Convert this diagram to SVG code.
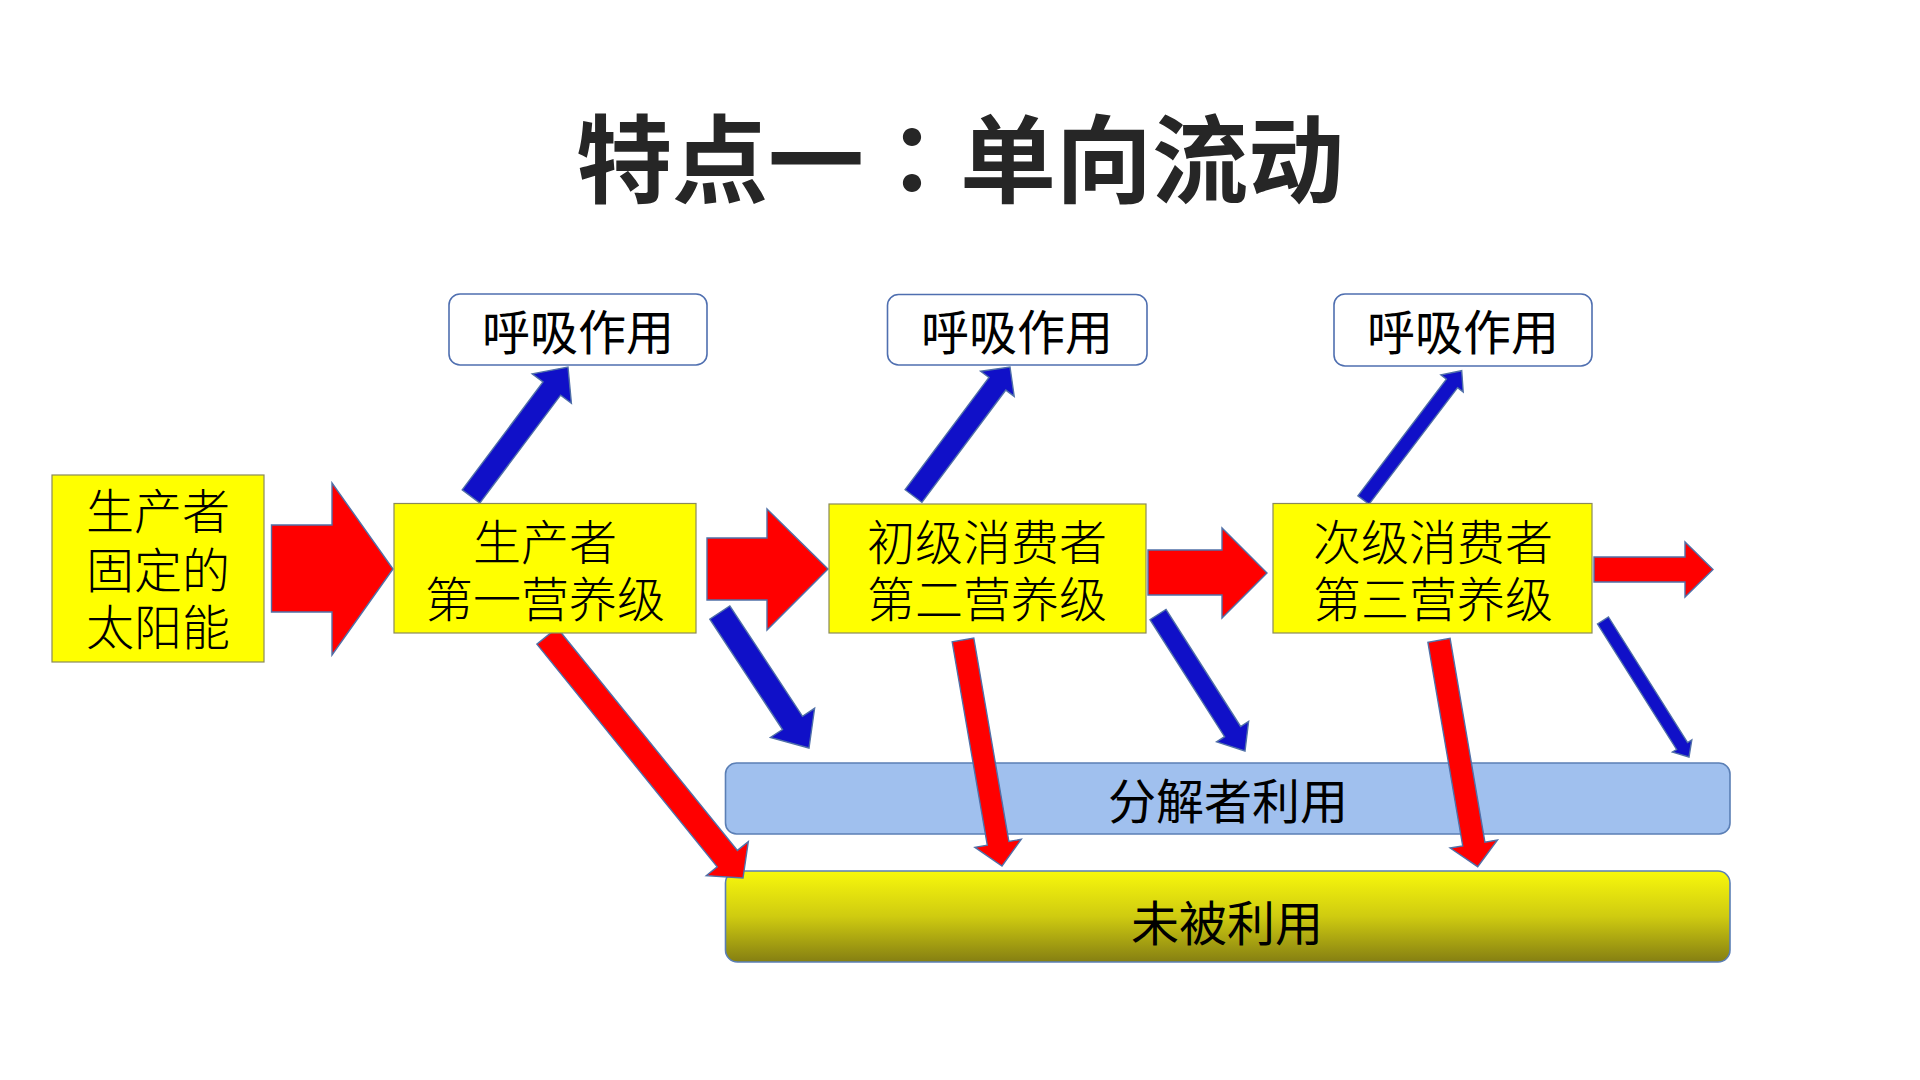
<svg xmlns="http://www.w3.org/2000/svg" width="1920" height="1080" viewBox="0 0 1920 1080">
<defs>
<linearGradient id="gUnused" x1="0" y1="0" x2="0" y2="1">
<stop offset="0" stop-color="#F8F80C"/>
<stop offset="0.5" stop-color="#CFCB10"/>
<stop offset="1" stop-color="#857F12"/>
</linearGradient>
<style>
.title{font-family:"Noto Sans CJK SC","Noto Sans CJK TC",sans-serif;font-weight:700;font-size:96px;fill:#262626;text-anchor:middle}
.colon{font-family:"Noto Sans CJK TC","Noto Sans CJK SC",sans-serif}
.t{font-family:"Noto Sans CJK SC","Noto Sans CJK TC",sans-serif;font-size:48px;fill:#000;text-anchor:middle}
.lt{font-weight:300}
.ybox{fill:#FFFF00;stroke:#8A8A5A;stroke-width:1.2}
.rbox{fill:#FFFFFF;stroke:#4F6FB0;stroke-width:1.6}
.dbar{fill:#A0C0EE;stroke:#5B7FB5;stroke-width:1.6}
.ubar{fill:url(#gUnused);stroke:#5B7FB5;stroke-width:1.6}
.red{fill:#FF0000;stroke:#5070A8;stroke-width:1.4;stroke-linejoin:miter}
.blue{fill:#1010C8;stroke:#5070A8;stroke-width:1.4;stroke-linejoin:miter}
</style>
</defs>
<rect width="1920" height="1080" fill="#FFFFFF"/>
<text class="title" x="960" y="195">特点一<tspan class="colon">：</tspan>单向流动</text>

<g id="decomposer">
<rect class="dbar" x="725.5" y="763" width="1004.5" height="71" rx="11"/>
<text class="t" x="1228" y="819">分解者利用</text>
</g>
<g id="unused">
<rect class="ubar" x="725.5" y="871" width="1004.5" height="91" rx="12"/>
<text class="t" x="1227" y="941">未被利用</text>
</g>

<g id="connectors">
<polygon class="red" points="271.5,525 332,525 332,483 393,569 332,655 332,612 271.5,612"/>
<polygon class="red" points="707,538 767,538 767,509 828,569 767,630 767,600 707,600"/>
<polygon class="red" points="1148,550 1222,550 1222,528 1267,573 1222,618 1222,595 1148,595"/>
<polygon class="red" points="1594,557 1685,557 1685,542 1713,569.5 1685,597 1685,582 1594,582"/>
<polygon class="blue" points="479.8,503.1 560.6,395.2 571.4,403.3 568,367 532.2,373.9 543,382 462.2,489.9"/>
<polygon class="blue" points="921.9,502.3 1005.8,390.1 1014.2,396.4 1010,367 980.6,371.2 989,377.5 905.1,489.7"/>
<polygon class="blue" points="1369.1,504.2 1457.6,387.7 1463.2,391.9 1461.7,370.7 1440.9,374.9 1446.4,379.2 1357.9,495.8"/>
<polygon class="blue" points="729.8,605.9 802.5,716.3 814.6,708.3 809,748 770.4,737.5 782.5,729.5 709.8,619.1"/>
<polygon class="blue" points="1166,609.4 1240.6,726.5 1248.6,721.4 1245,751 1216.6,741.8 1224.6,736.7 1150,619.6"/>
<polygon class="blue" points="1608.5,617 1687.6,742.5 1691.8,739.9 1689,757 1672.4,752.1 1676.6,749.5 1597.5,624"/>
<polygon class="red" points="557.1,627.8 737.4,850.4 748.3,841.6 743,878 706.3,875.6 717.2,866.8 536.9,644.2"/>
<polygon class="red" points="973.8,638.1 1008.9,841.5 1021.3,839.3 1002,866 974.9,847.3 987.3,845.2 952.2,641.9"/>
<polygon class="red" points="1450.1,638.4 1484.9,842.1 1497.5,840 1477.7,866.7 1450.1,848 1462.7,845.9 1427.9,642.2"/>
</g>

<g id="sun">
<rect class="ybox" x="52" y="475" width="212" height="187"/>
<text class="t lt" x="158" y="529">生产者<tspan x="158" dy="59">固定的</tspan><tspan x="158" dy="57">太阳能</tspan></text>
</g>
<g id="producer">
<rect class="ybox" x="394" y="503.5" width="302" height="129.5"/>
<text class="t lt" x="545" y="560">生产者<tspan x="545" dy="57">第一营养级</tspan></text>
</g>
<g id="primary">
<rect class="ybox" x="829" y="504" width="317" height="129"/>
<text class="t lt" x="987" y="560">初级消费者<tspan x="987" dy="57">第二营养级</tspan></text>
</g>
<g id="secondary">
<rect class="ybox" x="1273" y="503.5" width="319" height="129.5"/>
<text class="t lt" x="1433" y="560">次级消费者<tspan x="1433" dy="57">第三营养级</tspan></text>
</g>
<g id="resp1">
<rect class="rbox" x="449" y="294" width="258" height="71" rx="11"/>
<text class="t" x="578" y="350">呼吸作用</text>
</g>
<g id="resp2">
<rect class="rbox" x="887.5" y="294.5" width="259.5" height="70.5" rx="11"/>
<text class="t" x="1017" y="350">呼吸作用</text>
</g>
<g id="resp3">
<rect class="rbox" x="1334" y="294" width="258" height="72" rx="11"/>
<text class="t" x="1463" y="350">呼吸作用</text>
</g>
</svg>
